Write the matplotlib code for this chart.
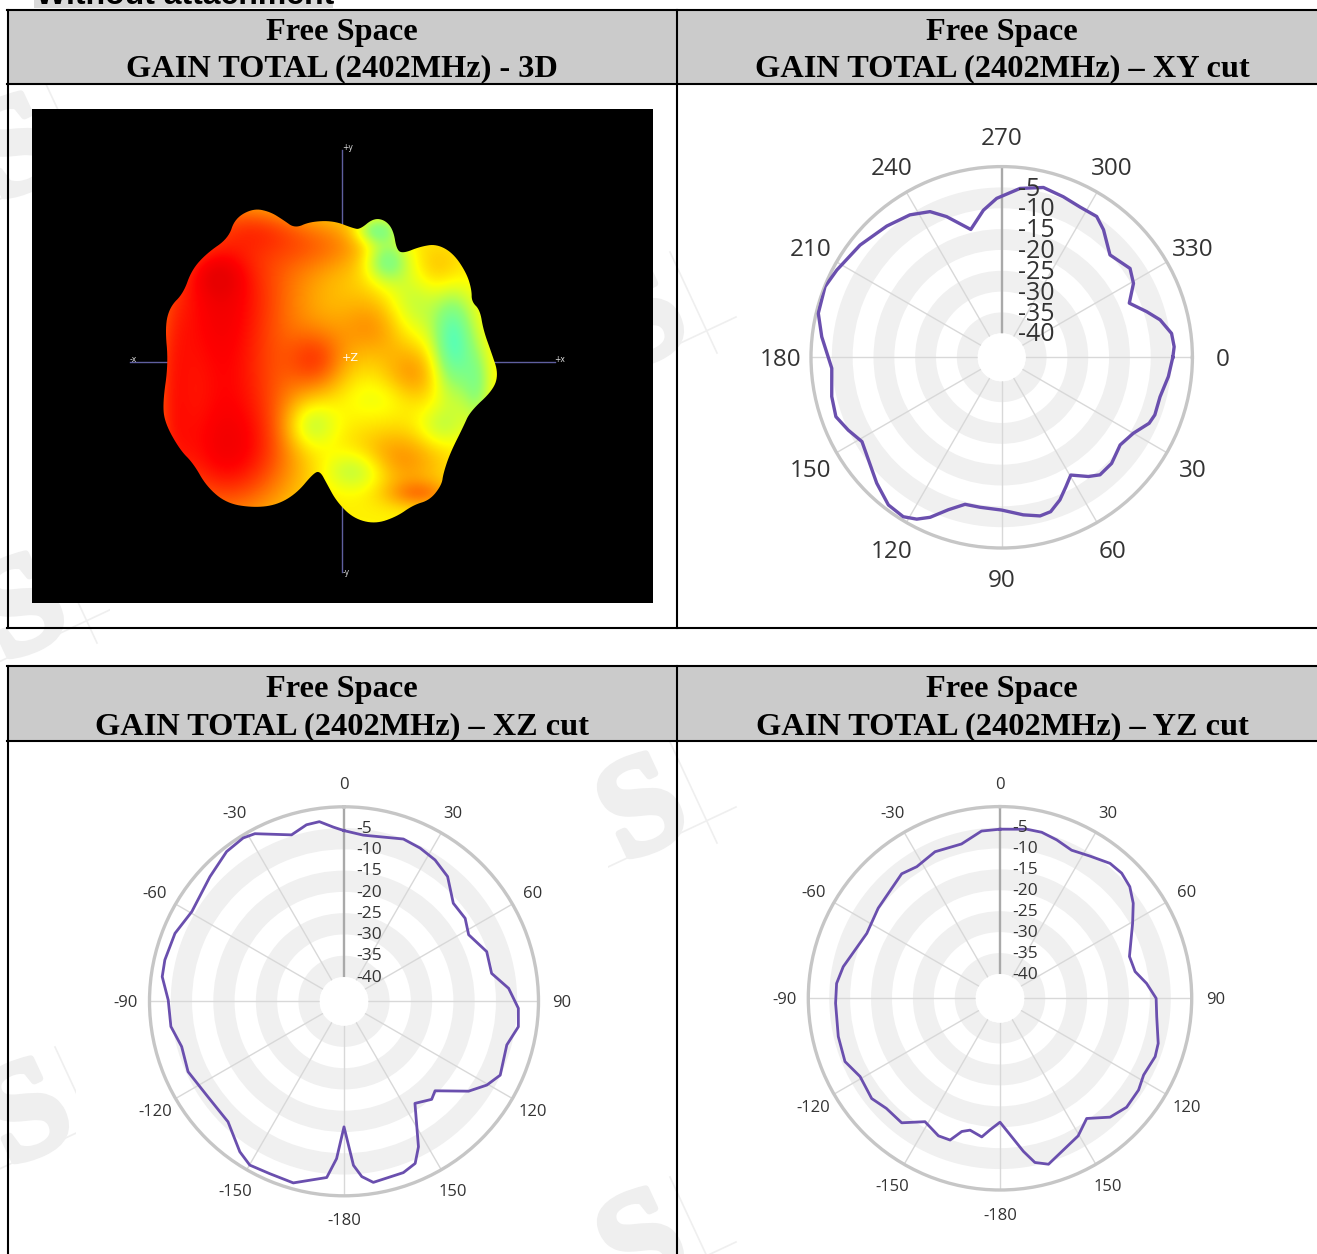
import numpy as np
import matplotlib
matplotlib.use("Agg")
import matplotlib.pyplot as plt
import matplotlib.patheffects as pe
from matplotlib.colors import LinearSegmentedColormap
from matplotlib.patches import Polygon, Rectangle

W, H = 1317, 1254

# ---------- data ----------
db_ticks = [-5, -10, -15, -20, -25, -30, -35, -40]
band_edges = [-40, -30, -20, -10]

xy_ticks = [0, 30, 60, 90, 120, 150, 180, 210, 240, 270, 300, 330]
xz_labels = ["0", "30", "60", "90", "120", "150", "-180", "-150", "-120", "-90", "-60", "-30"]
xz_ticks = [0, 30, 60, 90, 120, 150, 180, 210, 240, 270, 300, 330]

xy_angle = [0, 6.6, 14, 20.6, 24.1, 30, 36.5, 44, 50.1, 54, 59.6, 63.6, 67.8, 72.4, 76.4, 82.2, 90, 98.2, 104,
            109.3, 114.1, 117.7, 121.7, 127.5, 134.8, 148.9, 154.6, 160.3, 167, 176.3, 186.5, 193.5, 201.8,
            207.9, 218.4, 228.8, 237.2, 243.8, 248.6, 256.4, 262.9, 268.2, 276.2, 283.8, 291, 297.6, 304,
            308.6, 316.6, 325.3, 330.7, 337, 342.5, 346.7, 352, 356.5]
xy_gain = [-4.7, -5.5, -6.6, -6.5, -7.0, -9.3, -10.4, -9.1, -9.0, -10.4, -13.0, -11.1, -8.8, -6.9, -6.6, -7.6,
           -9.1, -9.4, -9.4, -7.0, -3.7, -1.9, -0.8, -1.1, -3.2, -6.6, -5.0, -3.5, -3.9, -4.9, -2.3, -0.5,
           -0.1, -1.0, -2.4, -3.9, -5.1, -6.8, -9.5, -14.2, -10.2, -7.6, -5.0, -3.8, -4.5, -5.1, -5.0, -6.6,
           -10.0, -8.3, -9.5, -12.5, -9.3, -6.7, -4.6, -4.3]

xz_angle = [0, 6.6, 20.1, 26.4, 32.8, 39.7, 48.1, 55.6, 61.9, 70.8, 79.3, 85.5, 92.3, 98.3, 105, 115.3, 120.4,
            125.8, 134.5, 138.2, 145.2, 152.9, 156.3, 160.9, 170.8, 174.2, 176.7, 180, 182.7, 185.6, 195.6,
            203.3, 209.9, 214.7, 223.9, 235.7, 245.7, 254.4, 261.7, 270.4, 277.7, 283, 291.9, 300.5, 312.9,
            321.9, 328.3, 332, 342.5, 348, 352.2, 356.5]
xz_gain = [-5.6, -6.4, -5.1, -5.5, -6.2, -7.6, -11.2, -11.2, -12.5, -10.2, -10.4, -6.9, -4.7, -4.3, -6.1, -5.1,
           -6.8, -9.6, -15.7, -14.8, -16.5, -7.3, -4.1, -3.1, -2.6, -4.3, -7.1, -16.2, -8.7, -4.1, -1.4, -1.6,
           -1.3, -2.7, -6.4, -6.6, -5.5, -6.1, -4.6, -4.4, -2.6, -2.5, -2.9, -4.2, -2.7, -1.0, -0.6, -1.1,
           -4.7, -3.3, -3.1, -4.7]

yz_angle = [0, 9, 14.1, 19.7, 25.8, 32.3, 39.2, 44.2, 49.3, 54.5, 60.5, 72.1, 78.8, 84.2, 90, 96.7, 105.9, 110.6,
            118.1, 123.5, 130.7, 137.2, 144.2, 150.4, 163.7, 168, 171.3, 180, 184.3, 187.5, 192.8, 196, 199.4,
            204.1, 211.3, 218.3, 225.9, 232, 240.8, 247.8, 256.7, 268.3, 275.2, 281.4, 296, 306.5, 321.7,
            327.7, 336.1, 346, 353.7]
yz_gain = [-5.4, -4.9, -4.9, -5.6, -6.5, -5.6, -4.2, -4.1, -4.9, -6.7, -9.4, -13.3, -12.9, -10.6, -8.5, -8.1,
           -6.5, -6.2, -6.9, -6.1, -5.9, -7.1, -10.4, -8.0, -4.5, -5.7, -8.8, -16.2, -14.3, -12.4, -13.5, -12.7,
           -9.9, -9.8, -11.3, -7.9, -8.0, -6.9, -7.5, -5.8, -6.1, -6.5, -6.6, -7.6, -10.4, -9.6, -7.9, -8.6,
           -7.5, -7.8, -5.6]

# 3D pattern picture: outline and colour field
blob_x = [400, 450, 490, 525, 570, 640, 700, 720, 760, 795, 820, 830, 850, 900, 950, 1000, 1040, 1055, 1055,
          1080, 1090, 1115, 1135, 1120, 1050, 1030, 990, 970, 965, 930, 880, 830, 765, 700, 650, 620, 600, 580,
          530, 470, 400, 320, 260, 220, 180, 135, 128, 145, 135, 150, 190, 215, 260, 325, 345]
blob_y = [235, 245, 270, 295, 275, 272, 295, 298, 265, 270, 300, 360, 370, 350, 342, 370, 430, 480, 515,
          540, 600, 670, 730, 780, 845, 890, 970, 1030, 1065, 1110, 1125, 1160, 1182, 1165, 1115, 1060, 1023,
          1030, 1090, 1125, 1133, 1120, 1070, 1000, 960, 880, 820, 700, 590, 530, 490, 420, 370, 325, 265]
spot_x = [270, 290, 330, 150, 420, 590, 760, 880, 830, 900, 600, 960, 430, 420,
          570, 710, 1000, 800, 770, 880, 1070, 960, 780]
spot_y = [650, 430, 1000, 800, 450, 690, 590, 730, 990, 1090, 340, 420, 780, 290,
          885, 1020, 640, 390, 300, 520, 760, 890, 800]
spot_sx = [110, 60, 140, 50, 170, 65, 80, 65, 100, 70, 130, 60, 100, 90,
           55, 70, 45, 45, 45, 60, 30, 50, 80]
spot_sy = [300, 50, 120, 250, 130, 70, 70, 65, 65, 30, 60, 60, 200, 50,
           55, 45, 110, 45, 30, 80, 80, 45, 45]
spot_amp = [-0.38, -0.1, -0.25, -0.2, -0.2, -0.26, -0.17, -0.17, -0.2, -0.2, -0.17, -0.12, -0.2, -0.14,
            0.2, 0.2, 0.4, 0.3, 0.3, 0.16, 0.2, 0.12, 0.06]

# ---------- figure ----------
fig = plt.figure(figsize=(W / 100, H / 100), dpi=100, facecolor="white")
bg = fig.add_axes([0, 0, 1, 1], zorder=0)
bg.set_xlim(0, W)
bg.set_ylim(H, 0)
bg.axis("off")

# watermark: bold serif S with two thin crossing strokes, each cut off by a hard edge
WM = "#efefef"
for wx, wy, cut0, cut1 in [(645, 790, 608, 760), (645, 300, 608, 760), (645, 1225, 608, 760),
                           (30, 1095, -40, 76), (20, 130, -40, 110), (25, 590, -40, 110)]:
    box = Rectangle((cut0, wy - 110), cut1 - cut0, 220, transform=bg.transData, fc="none", ec="none")
    bg.add_patch(box)
    t = bg.text(wx, wy, "S", fontsize=100, family="Liberation Serif", fontweight="bold", color=WM,
                ha="center", va="center_baseline", rotation=25, zorder=0,
                path_effects=[pe.withStroke(linewidth=5, foreground=WM)])
    t.set_clip_path(box)
    for (ax0, ay0), (ax1, ay1) in [((-37, 77), (91, 17)), ((25, -48), (72, 53))]:
        ln, = bg.plot([wx + ax0, wx + ax1], [wy + ay0, wy + ay1], color=WM, lw=1.2, zorder=0)
        ln.set_clip_path(box)

HEAD = "#cbcbcb"
LW = 1.5
for top, mid, bot in [(10, 84, 628), (666, 741, 1260)]:
    bg.add_patch(Rectangle((8, top), W - 8, mid - top, fc=HEAD, ec="none", zorder=1))
    for yy in (top, mid, bot):
        bg.plot([7, W], [yy, yy], color="black", lw=LW, zorder=2)
    bg.plot([8, 8], [top, bot], color="black", lw=LW, zorder=2)
    bg.plot([677, 677], [top, bot], color="black", lw=LW, zorder=2)

bg.add_patch(Rectangle((34, -2), 299, 10, fc="#d9d9d9", ec="none", zorder=1))
bg.text(36, 4, "Without attachment", fontsize=23, family="Liberation Sans", fontweight="bold",
        ha="left", va="baseline", color="black", zorder=2)

heads = [(342, 29, 65, "GAIN TOTAL (2402MHz) - 3D"), (1002, 29, 65, "GAIN TOTAL (2402MHz) \u2013 XY cut"),
         (342, 686, 723, "GAIN TOTAL (2402MHz) \u2013 XZ cut"), (1002, 686, 723, "GAIN TOTAL (2402MHz) \u2013 YZ cut")]
for hx, y1, y2, t in heads:
    for yy, s in ((y1, "Free Space"), (y2, t)):
        bg.text(hx, yy, s, fontsize=23.3, family="Liberation Serif", fontweight="bold",
                ha="center", va="center_baseline", zorder=3)


def polar(cx, cy, R, hole, angle, gain, ticks, labels, zero, fs, pad, rl_dx, top_idx, lw, rfs):
    ax = fig.add_axes([(cx - R) / W, 1 - (cy + R) / H, 2 * R / W, 2 * R / H], projection="polar", zorder=2)
    ax.patch.set_alpha(0)
    ax.set_theta_zero_location(zero)
    ax.set_theta_direction(-1)
    ax.set_ylim(-40, 0)
    ax.set_rorigin(-40 - 40 * hole / (R - hole))
    for b in band_edges:
        ax.bar(np.pi, 5, width=2 * np.pi, bottom=b, color="#f0f0f0", linewidth=0, zorder=0.5)
    ax.set_xticks(np.deg2rad(ticks))
    ax.set_xticklabels([])
    ax.tick_params(axis="x", length=0)
    ax.set_yticks(db_ticks)
    ax.set_yticklabels([])
    ax.tick_params(axis="y", length=0)
    ax.yaxis.grid(False)
    ax.xaxis.grid(True, color="#d8d8d8", lw=1.0, zorder=1)
    ax.xaxis.get_gridlines()[top_idx].set(color="#a9a9a9", lw=1.7)
    ax.spines["polar"].set(color="#c6c6c6", lw=2.4)
    ax.spines["inner"].set_edgecolor("none")
    a = np.deg2rad(np.r_[angle, angle[0]])
    g = np.r_[gain, gain[0]]
    ax.plot(a, g, color="#6a4fae", lw=lw, zorder=3, solid_joinstyle="round")
    base = 0.0 if zero == "E" else 90.0
    for tk, lb in zip(ticks, labels):
        scr = np.deg2rad(base - tk)
        ax.annotate(lb, xy=(np.deg2rad(tk), 0), xytext=(pad * np.cos(scr), pad * np.sin(scr)),
                    textcoords="offset points", fontsize=fs, family="Open Sans", color="#333333",
                    ha="center", va="center_baseline", annotation_clip=False)
    top_rad = np.deg2rad(ticks[top_idx])
    for d in db_ticks:
        ax.annotate(str(d), xy=(top_rad, d), xytext=(rl_dx, 1), textcoords="offset points", fontsize=rfs,
                    family="Open Sans", color="#333333", ha="left", va="center_baseline", zorder=4,
                    annotation_clip=False)
    return ax


polar(1001.7, 357.3, 190.7, 24, xy_angle, xy_gain, xy_ticks, [str(t) for t in xy_ticks], "E",
      17.5, 21.8, 12.0, 9, 2.4, 18)
polar(344, 1001.3, 194.5, 24.3, xz_angle, xz_gain, xz_ticks, xz_labels, "N", 12, 17.0, 8.6, 0, 2.0, 12.5)
polar(1000, 998.3, 191.7, 24.3, yz_angle, yz_gain, xz_ticks, xz_labels, "N", 12, 17.0, 8.8, 0, 2.0, 12.5)

# ---------- 3D panel ----------
px0, px1, py0, py1 = 32, 653, 109, 603
pn = fig.add_axes([px0 / W, 1 - py1 / H, (px1 - px0) / W, (py1 - py0) / H], zorder=2)
pn.set_facecolor("black")
xl = ((px0 - 120) * 3, (px1 - 120) * 3)
yl = ((py1 - 130) * 3, (py0 - 130) * 3)
pn.set_xticks([])
pn.set_yticks([])
for s in pn.spines.values():
    s.set_visible(False)
AX_C = "#5f5f9f"
pn.plot([667, 667], [60, 1325], color=AX_C, lw=1, zorder=1)
pn.plot([30, 1305], [695, 695], color=AX_C, lw=1, zorder=1)
for tx, ty, t in [(683, 52, "+y"), (678, 1328, "-y"), (40, 690, "-x"), (1320, 688, "+x")]:
    pn.text(tx, ty, t, color="#dddddd", fontsize=5.5, ha="center", va="center", zorder=1)

# smooth the outline (corner cutting)
pts = np.c_[blob_x, blob_y].astype(float)
for _ in range(3):
    nxt = np.roll(pts, -1, axis=0)
    pts = np.c_[0.75 * pts + 0.25 * nxt, 0.25 * pts + 0.75 * nxt].reshape(-1, 2)

gx, gy = np.meshgrid(np.arange(100, 1160, 3.0), np.arange(210, 1200, 3.0))
field = np.full(gx.shape, 0.56)
for x0, y0, sx, sy, am in zip(spot_x, spot_y, spot_sx, spot_sy, spot_amp):
    field += am * np.exp(-((gx - x0) / sx) ** 2 / 2 - ((gy - y0) / sy) ** 2 / 2)
cmap = LinearSegmentedColormap.from_list(
    "pattern", [(0, "#e80000"), (0.08, "#ff0000"), (0.36, "#ff9000"), (0.58, "#ffff00"),
                (0.8, "#90ff70"), (1, "#50ffc0")])
im = pn.imshow(field, extent=(100, 1160, 1200, 210), cmap=cmap, vmin=0, vmax=1, zorder=2,
               interpolation="bilinear", aspect="auto")
pn.set_xlim(*xl)
pn.set_ylim(*yl)
clip = Polygon(pts, closed=True, transform=pn.transData, fc="none", ec="none")
pn.add_patch(clip)
im.set_clip_path(clip)
pn.text(690, 685, "+Z", color="white", fontsize=8, ha="center", va="center", zorder=3)

fig.savefig("out.png", dpi=100)
